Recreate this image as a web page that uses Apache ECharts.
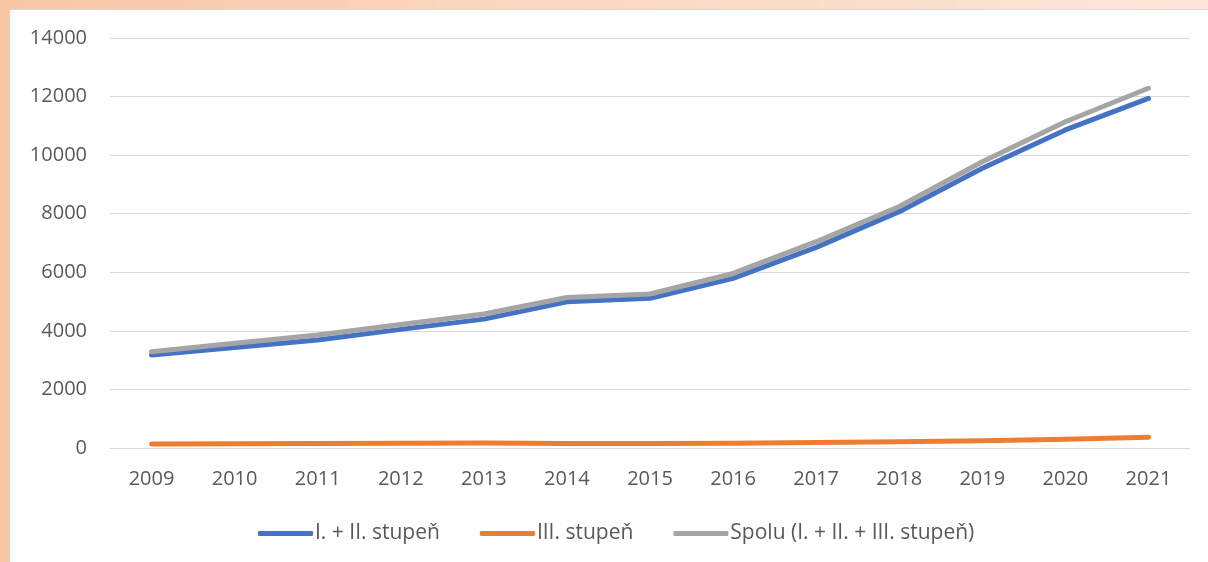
<!DOCTYPE html>
<html>
<head>
<meta charset="utf-8">
<script src="https://cdn.jsdelivr.net/npm/echarts@6/dist/echarts.min.js"></script>
<style>
  html, body { margin: 0; padding: 0; }
  body {
    width: 1208px; height: 562px; overflow: hidden; position: relative;
    background: linear-gradient(90deg, #f8c6a4 0%, #fbd6bf 40%, #fde6d8 100%);
  }
  .panel {
    position: absolute; left: 9px; top: 9px; width: 1210px; height: 560px;
    background: #fff; border: 1px solid #d9d9d9;
  }
  #main { position: absolute; left: 0; top: 0; width: 1208px; height: 562px; }
</style>
</head>
<body>
<div class="panel"></div>
<div id="main"></div>
<script>
  // roky
  var years = ['2009', '2010', '2011', '2012', '2013', '2014', '2015', '2016', '2017', '2018', '2019', '2020', '2021'];
  var stupen12 = [3175, 3430, 3690, 4050, 4400, 4990, 5110, 5790, 6850, 8070, 9550, 10860, 11940];
  var stupen3 = [135, 145, 155, 165, 170, 150, 150, 165, 190, 210, 250, 300, 370];
  var spolu = [3290, 3575, 3855, 4220, 4575, 5140, 5260, 5960, 7045, 8245, 9775, 11140, 12285];
  var names = ['I. + II. stupeň', 'III. stupeň', 'Spolu (I. + II. + III. stupeň)'];
  var colors = ['#4472C4', '#ED7D31', '#A5A5A5'];

  var font = '"Open Sans", "Noto Sans", sans-serif';
  var myChart = echarts.init(document.getElementById('main'));

  function line(name, data, color) {
    return {
      name: name,
      type: 'line',
      data: data,
      showSymbol: false,
      symbol: 'none',
      lineStyle: { color: color, width: 5, cap: 'round', join: 'round' },
      itemStyle: { color: color },
      emphasis: { disabled: true }
    };
  }

  var option = {
    animation: false,
    textStyle: { fontFamily: font },
    grid: { left: 110, right: 18, top: 38, bottom: 114 },
    legend: {
      data: names,
      bottom: 13,
      left: 253,
      icon: 'roundRect',
      itemWidth: 55,
      itemHeight: 5,
      itemGap: 40,
      textStyle: { fontFamily: font, fontSize: 21, color: '#595959', padding: [0, 0, 0, -3] }
    },
    xAxis: {
      type: 'category',
      data: years,
      boundaryGap: true,
      axisLine: { lineStyle: { color: '#d9d9d9', width: 1 } },
      axisTick: { show: false },
      axisLabel: { color: '#595959', fontSize: 20, margin: 21, fontFamily: font }
    },
    yAxis: {
      type: 'value',
      min: 0,
      max: 14000,
      interval: 2000,
      axisLine: { show: false },
      axisTick: { show: false },
      splitLine: { lineStyle: { color: '#d9d9d9', width: 1 } },
      axisLabel: {
        color: '#595959', fontSize: 20, margin: 23, fontFamily: font,
        formatter: function (v) { return String(v); }
      }
    },
    series: [
      line(names[0], stupen12, colors[0]),
      line(names[1], stupen3, colors[1]),
      line(names[2], spolu, colors[2])
    ]
  };
  myChart.setOption(option);
</script>
</body>
</html>
